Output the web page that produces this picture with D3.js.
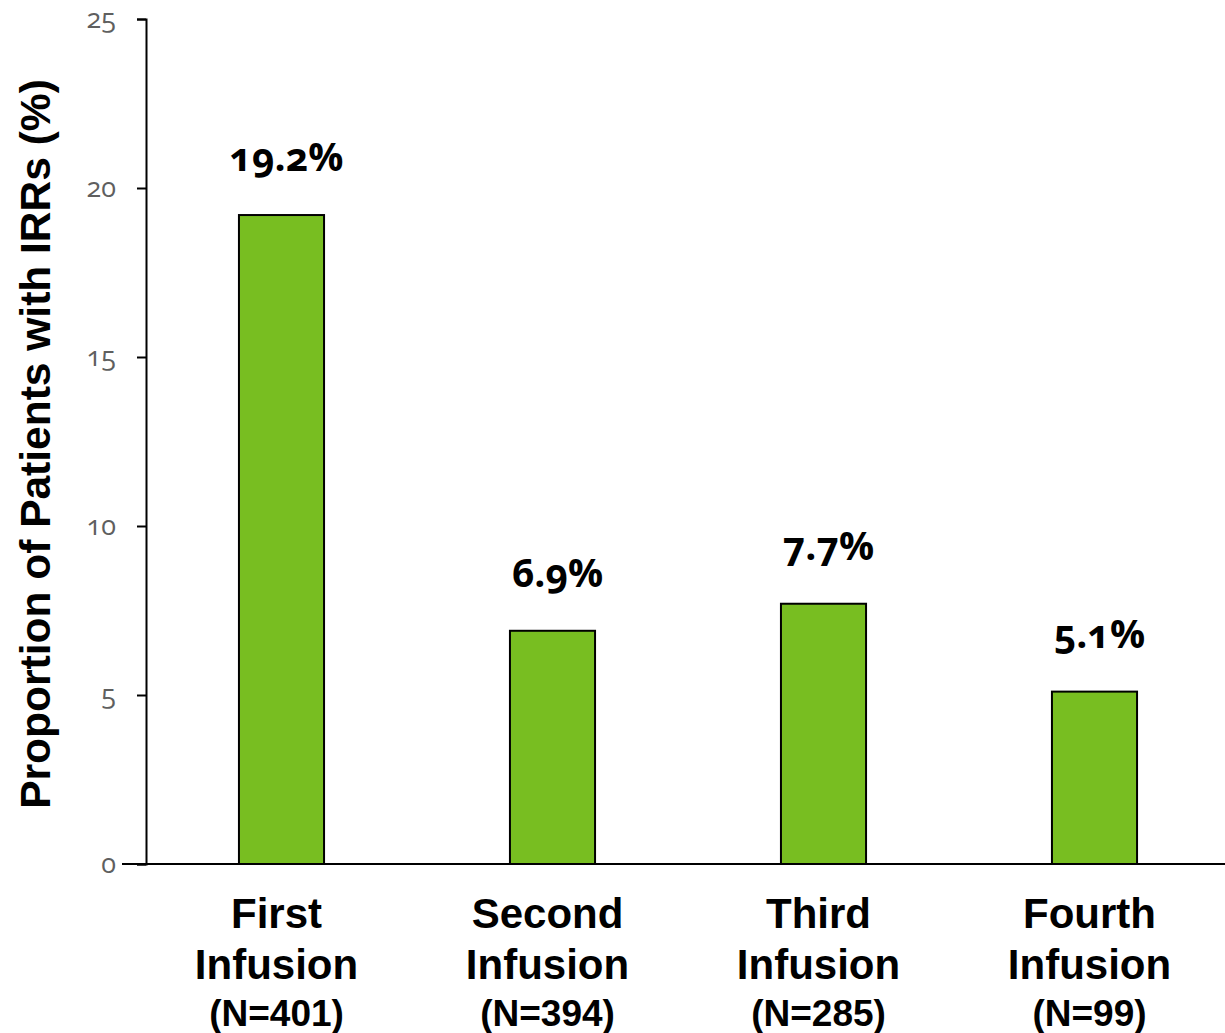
<!DOCTYPE html>
<html>
<head>
<meta charset="utf-8">
<script src="https://cdn.jsdelivr.net/npm/d3@7"></script>
<style>
  html, body { margin: 0; padding: 0; background: #fff; }
  svg { display: block; }
  .tick text { font-family: "Open Sans", "Noto Sans", sans-serif; font-variant-numeric: oldstyle-nums; font-feature-settings: "onum" 1; }
  .val { font-family: "Open Sans", "Noto Sans", sans-serif; font-weight: 700; font-variant-numeric: oldstyle-nums; font-feature-settings: "onum" 1; }
</style>
</head>
<body>
<svg id="chart" width="1225" height="1033"></svg>
<script>
// Infusion-related reactions by infusion number
const infusions = ["First", "Second", "Third", "Fourth"];
const patientCounts = [401, 394, 285, 99];
const irrPercent = [19.2, 6.9, 7.7, 5.1];
const yTicks = [0, 5, 10, 15, 20, 25];

const svg = d3.select("#chart");
const plotLeft = 146, plotTop = 19, plotBottom = 864;

const y = d3.scaleLinear().domain([0, 25]).range([plotBottom, plotTop]);
const x = d3.scaleBand()
  .domain(infusions)
  .range([plotLeft, 1230])
  .paddingInner(0.686)
  .paddingOuter(0.343);

// y axis with outward ticks
const yAxis = svg.append("g")
  .attr("transform", `translate(${plotLeft},0)`)
  .call(d3.axisLeft(y).tickValues(yTicks).tickSize(9).tickSizeOuter(9).tickPadding(21));
yAxis.select(".domain").attr("stroke", "#000").attr("stroke-width", 2);
yAxis.selectAll(".tick line").attr("stroke", "#000").attr("stroke-width", 2);
yAxis.selectAll(".tick text").attr("fill", "#5f5f5f").attr("font-size", 27);

// bars
svg.append("g").selectAll("rect")
  .data(infusions)
  .join("rect")
  .attr("x", d => x(d))
  .attr("width", x.bandwidth())
  .attr("y", (d, i) => y(irrPercent[i]))
  .attr("height", (d, i) => y(0) - y(irrPercent[i]))
  .attr("fill", "#78BE21")
  .attr("stroke", "#000")
  .attr("stroke-width", 2);

// baseline across the chart
svg.append("line")
  .attr("x1", 122).attr("x2", 1225)
  .attr("y1", y(0)).attr("y2", y(0))
  .attr("stroke", "#000").attr("stroke-width", 2);

// value labels above bars
svg.append("g").selectAll("text")
  .data(infusions)
  .join("text")
  .attr("class", "val")
  .attr("x", d => x(d) + x.bandwidth() / 2 + 5)
  .attr("y", (d, i) => y(irrPercent[i]) - 44)
  .attr("text-anchor", "middle")
  .attr("font-size", 39)
  .attr("fill", "#000")
  .text((d, i) => irrPercent[i].toFixed(1) + "%");

// category labels
const cat = svg.append("g").selectAll("g")
  .data(infusions)
  .join("g")
  .attr("transform", d => `translate(${x(d) + x.bandwidth() / 2 - 5},0)`)
  .attr("font-family", "'Liberation Sans', Arial, sans-serif")
  .attr("font-weight", "bold")
  .attr("text-anchor", "middle")
  .attr("fill", "#000");
cat.append("text").attr("y", 928).attr("font-size", 42).text(d => d);
cat.append("text").attr("y", 979).attr("font-size", 42).text("Infusion");
cat.append("text").attr("y", 1026).attr("font-size", 37).text((d, i) => `(N=${patientCounts[i]})`);

// y axis title
svg.append("text")
  .attr("transform", `translate(50,${(80 + 808) / 2}) rotate(-90)`)
  .attr("text-anchor", "middle")
  .attr("font-family", "'Liberation Sans', Arial, sans-serif")
  .attr("font-weight", "bold")
  .attr("font-size", 42.5)
  .attr("fill", "#000")
  .text("Proportion of Patients with IRRs (%)");
</script>
</body>
</html>
